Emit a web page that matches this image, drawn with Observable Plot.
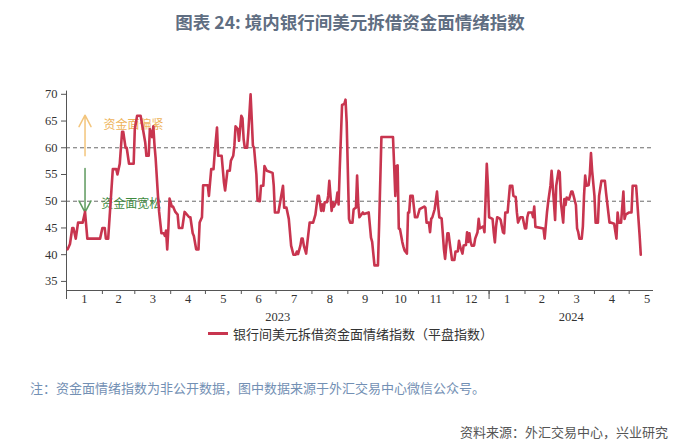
<!DOCTYPE html>
<html>
<head>
<meta charset="utf-8">
<script src="https://cdn.jsdelivr.net/npm/d3@7"></script>
<script src="https://cdn.jsdelivr.net/npm/@observablehq/plot@0.6"></script>
<style>
  html, body { margin: 0; padding: 0; background: #fff; }
  body { width: 700px; height: 447px; position: relative; overflow: hidden; font-family: "Noto Sans CJK SC", "Noto Sans", sans-serif; }
  #title { position: absolute; top: 9px; left: 0; width: 700px; text-align: center; font-size: 17.5px; font-weight: bold; color: #5f6e82; line-height: 26px; }
  #chart { position: absolute; top: 45px; left: 0; }
  #legend { position: absolute; top: 325px; left: 208px; display: flex; align-items: center; height: 17px; }
  #legend .sw { display: inline-block; width: 20px; height: 3px; background: #c8354f; }
  #legend .lb { margin-left: 5px; font-size: 13px; color: #333; line-height: 17px; }
  #note { position: absolute; top: 379px; left: 30px; font-size: 13px; color: #7390b4; line-height: 18px; }
  #source { position: absolute; top: 423px; right: 32px; font-size: 13px; color: #555; line-height: 18px; }
</style>
</head>
<body>
<div id="title">图表 24: 境内银行间美元拆借资金面情绪指数</div>
<div id="chart"></div>
<div id="legend"><span class="sw"></span><span class="lb">银行间美元拆借资金面情绪指数（平盘指数）</span></div>
<div id="note">注：资金面情绪指数为非公开数据，图中数据来源于外汇交易中心微信公众号。</div>
<div id="source">资料来源：外汇交易中心，兴业研究</div>
<script>
// ---- data ----
const startDate = [2023, 0, 1];          // day offsets are counted from 2023-01-01
const endDate = [2024, 4, 22];           // right end of the x axis
const dayOffset = [
  1,3,5,6,8,10,14,16,18,29,31,33,34,36,40,43,44,46,48,49,51,52,54,58,59,61,64,66,68,69,71,72,74,75,76,77,79,80,82,84,85,86,87,88,89,91,92,94,96,97,100,102,106,107,109,110,112,114,115,117,118,122,123,125,127,
  128,130,131,134,136,137,139,141,142,144,145,146,148,149,151,152,153,154,156,157,159,160,161,162,164,165,167,168,170,171,173,178,179,180,183,185,187,188,190,192,193,194,196,198,199,200,202,203,204,205,207,208,210,213,215,217,218,220,221,222,223,225,226,227,229,230,231,233,234,235,236,238,240,241,242,244,245,247,248,250,251,252,253,
  256,257,261,263,264,266,269,270,272,282,283,284,285,286,287,288,290,291,292,294,295,296,297,299,300,301,303,305,309,310,311,313,314,315,316,318,320,321,322,324,325,326,327,329,330,331,333,335,336,338,339,340,342,343,345,346,347,348,349,350,352,353,355,356,357,360,361,363,364,365,368,369,370,371,372,374,375,377,378,
  379,381,383,385,386,388,389,390,392,394,396,397,398,399,402,403,404,405,412,413,415,416,418,419,421,422,423,425,426,427,429,430,431,432,434,436,437,438,440,441,442,443,445,446,447,448,449,451,452,453,454,456,457,459,460,462,465,466,469,470,473,475,476,477,479,481,482,483,486,488,489,492,494,495,496
];
const indexValue = [
  41,42,45,45,43,46,46,48,43,43,45,45,43,43,56,56,55,57,63,63,60,60,57,57,63.5,66,66,63.5,61,58.5,58.5,63.5,62,64,60.5,58,51,48,44,44,43.5,44.5,41,45,50.5,49,49,48,47.5,45,45,48,47,47,44,43.5,41,41,46,47,53,53,51,56,56,
  59,63.8,58.5,58.5,53.5,52,55.7,55.7,57.6,58.5,60.4,64,63.5,61.3,66,65.5,61.6,60,60,62.8,70,65.3,60.4,60,55,50.1,50,52.9,52.9,56.6,55.7,55.3,52.9,47.9,47.9,50.4,52.9,48.8,48.8,46.7,44.2,41.7,40,40,40.6,40.1,41.7,43,43,41.7,40.2,42.2,46,46,47.5,51,51,48.2,49.4,48.2,49.8,49.8,51,53.8,48.2,49.8,49,50,51.6,49.4,56,68,68.2,69,64.7,46.7,46,46,48.5,48.8,54.8,49.4,47,
  47.9,47.6,47.9,43.2,42.4,38,38,45.4,62,62,56.6,51,56.6,56.7,44.9,44.8,42.4,41.5,40.8,40.2,47.9,47.9,51,51,49,47,47,48.5,49,48.8,46,46,44.2,46.7,47,48.5,51.8,49,47,46.8,44,41,39.2,44,44,42.2,39,39,40.6,40.6,42.6,41.5,40.2,41.7,41.8,44.2,42.4,44,42.4,41.7,41.7,43,44.2,46.7,44.9,45.3,44.2,57,52.9,47,46.7,44.2,42.3,45.3,47,46.8,46.5,44.2,44,
  47.9,47.9,52.9,52.9,51,50.8,47.9,46,47,47,44.9,44.9,47,47.9,47.9,47,49,45.2,44.9,43,47.9,49.8,52.9,55.7,49.8,46.5,52.9,55.7,55.4,49.8,46,50.4,49.3,50.7,50.3,51.8,51.8,51,49.3,44.9,44.2,43,43,45.3,51,54.8,52.9,53,55,59,55.7,51,46,46,51,53.8,53.8,51.6,46,46,45.8,43,47.9,46,46,51.8,46.7,47.5,47.9,47.9,52.9,52.9,46.7,43.6,40
];
const yDomain = [33.3, 70.6];
const yTicks = [35, 40, 45, 50, 55, 60, 65, 70];
const refLevels = [50, 60];
const monthLabels = ["1","2","3","4","5","6","7","8","9","10","11","12","1","2","3","4","5"];
const yearLabels = ["2023", "2024"];
// annotation arrows: [day, fromValue, toValue]
const tightArrow = [16, 58.5, 66.1];
const looseArrow = [16, 56.1, 47.9];
const tightText = ["资金面偏紧", 32, 64.2];
const looseText = ["资金面宽松", 30, 49.5];

// ---- build ----
const t0 = new Date(Date.UTC(...startDate));
const t1 = new Date(Date.UTC(...endDate));
const dayToDate = d => new Date(Date.UTC(startDate[0], startDate[1], startDate[2] + d));
const series = dayOffset.map((d, i) => ({date: dayToDate(d), value: indexValue[i]}));

const monthStarts = d3.utcMonth.range(t0, new Date(Date.UTC(2024, 4, 2)));
const monthMids = monthStarts.map(m => new Date((+m + +d3.utcMonth.offset(m, 1)) / 2));
const yearStarts = [t0, new Date(Date.UTC(2024, 0, 1))];
const yearMids = [new Date((+yearStarts[0] + +yearStarts[1]) / 2), new Date((+yearStarts[1] + +t1) / 2)];
const lookup = (arr, labels) => d => labels[arr.findIndex(a => +a === +d)];

const axisColor = "#555";
const chart = Plot.plot({
  width: 700,
  height: 280,
  marginTop: 45.6,
  marginBottom: 35,
  marginLeft: 66,
  marginRight: 47,
  x: {type: "utc", domain: [t0, t1]},
  y: {domain: yDomain},
  style: {fontFamily: "'Liberation Serif', 'Times New Roman', serif", fontSize: "12.5px", color: "#333", background: "#fff", overflow: "visible"},
  marks: [
    Plot.ruleY(refLevels, {stroke: "#6a6a6a", strokeWidth: 1, strokeDasharray: "4,3"}),
    Plot.axisY({ticks: yTicks, tickSize: 5, tickPadding: 4, stroke: axisColor, label: null, tickFormat: d => String(d)}),
    Plot.axisX({ticks: monthStarts, tickSize: 4, tickFormat: () => "", stroke: axisColor, label: null}),
    Plot.axisX({ticks: yearStarts, tickSize: 9, tickFormat: () => "", stroke: axisColor, label: null}),
    Plot.axisX({ticks: monthMids, tickSize: 0, tickPadding: 4, tickFormat: lookup(monthMids, monthLabels), label: null}),
    Plot.axisX({ticks: yearMids, tickSize: 0, tickPadding: 22, tickFormat: lookup(yearMids, yearLabels), label: null}),
    Plot.ruleX([t0], {stroke: axisColor, strokeWidth: 1}),
    Plot.ruleY([yDomain[0]], {stroke: axisColor, strokeWidth: 1}),
    Plot.arrow([tightArrow], {x: d => dayToDate(d[0]), y1: d => d[1], y2: d => d[2], stroke: "#f3c57c", strokeWidth: 1.5, headLength: 13, headAngle: 55}),
    Plot.arrow([looseArrow], {x: d => dayToDate(d[0]), y1: d => d[1], y2: d => d[2], stroke: "#5e9a5e", strokeWidth: 1.5, headLength: 13, headAngle: 55}),
    Plot.text([tightText], {x: d => dayToDate(d[1]), y: d => d[2], text: d => d[0], fill: "#eeb35a", fontSize: 12, textAnchor: "start", fontFamily: "Noto Sans CJK SC"}),
    Plot.text([looseText], {x: d => dayToDate(d[1]), y: d => d[2], text: d => d[0], fill: "#3f8a3f", fontSize: 12, textAnchor: "start", fontFamily: "Noto Sans CJK SC"}),
    Plot.line(series, {x: "date", y: "value", stroke: "#c8354f", strokeWidth: 2.6, strokeLinejoin: "round"})
  ]
});
document.getElementById("chart").appendChild(chart);
</script>
</body>
</html>
